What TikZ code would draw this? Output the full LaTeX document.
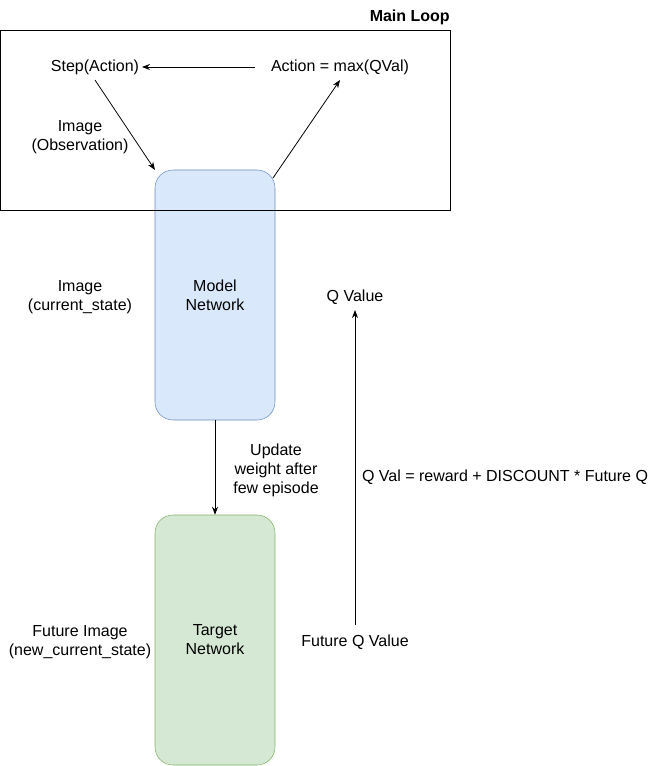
\documentclass[tikz,border=0pt]{standalone}
\usepackage{fontspec}
\setmainfont{Liberation Sans}
\usepackage{tikz}
\usetikzlibrary{arrows.meta}
\usepackage{xcolor}
\definecolor{modelfill}{HTML}{DAE8FC}
\definecolor{modeldraw}{HTML}{6C8EBF}
\definecolor{targetfill}{HTML}{D5E8D4}
\definecolor{targetdraw}{HTML}{82B366}
\tikzset{
  lbl/.style={align=center, font=\fontsize{12}{14.25}\selectfont, inner sep=0pt, yshift=-1.5pt},
  net/.style={rounded corners=13.5pt, minimum width=90pt, minimum height=187.5pt, inner sep=0pt, align=center, font=\fontsize{12}{14.25}\selectfont},
  conn/.style={-{Stealth[length=6pt,width=4.5pt]}, line width=0.6pt}
}
\begin{document}
\begin{tikzpicture}[x=0.75pt,y=-0.75pt]
  \useasboundingbox (0,0) rectangle (651,766);
  \node[net, fill=modelfill, draw=modeldraw] (model) at (215,295) {Model\\Network};
  \node[net, fill=targetfill, draw=targetdraw] (target) at (215,640) {Target\\Network};
  \draw[line width=0.6pt] (0.5,30) rectangle (450,210);
  \node[lbl, anchor=east, font=\fontsize{12}{14.25}\selectfont\bfseries] (mainloop) at (450,15) {Main Loop};
  \node[lbl] (step) at (95,65) {Step(Action)};
  \node[lbl] (action) at (340,65) {Action = max(QVal)};
  \node[lbl] (obs) at (80,135) {Image\\(Observation)};
  \node[lbl] (cur) at (80,295) {Image\\(current\_state)};
  \node[lbl] (upd) at (276,468) {Update\\weight after\\few episode};
  \node[lbl] (qval) at (355,295) {Q Value};
  \node[lbl] (fq) at (355,640) {Future Q Value};
  \node[lbl] (eq) at (505,475) {Q Val = reward + DISCOUNT * Future Q};
  \node[lbl] (fut) at (80,640) {Future Image\\(new\_current\_state)};
  \coordinate (a1) at (255,65);
  \coordinate (s1) at (95,80);
  \coordinate (m1) at (155,170);
  \coordinate (m2) at (273,178);
  \coordinate (a2) at (340,80);
  \coordinate (fq1) at (355,625);
  \coordinate (q1) at (355,310);
  \draw[conn] (step.east -| a1) -- ([xshift=2pt]step.east);
  \draw[conn] (s1) -- (m1);
  \draw[conn] (m2) -- (a2);
  \draw[conn] (model.south) -- (target.north);
  \draw[conn] (fq1) -- (q1);
\end{tikzpicture}
\end{document}
